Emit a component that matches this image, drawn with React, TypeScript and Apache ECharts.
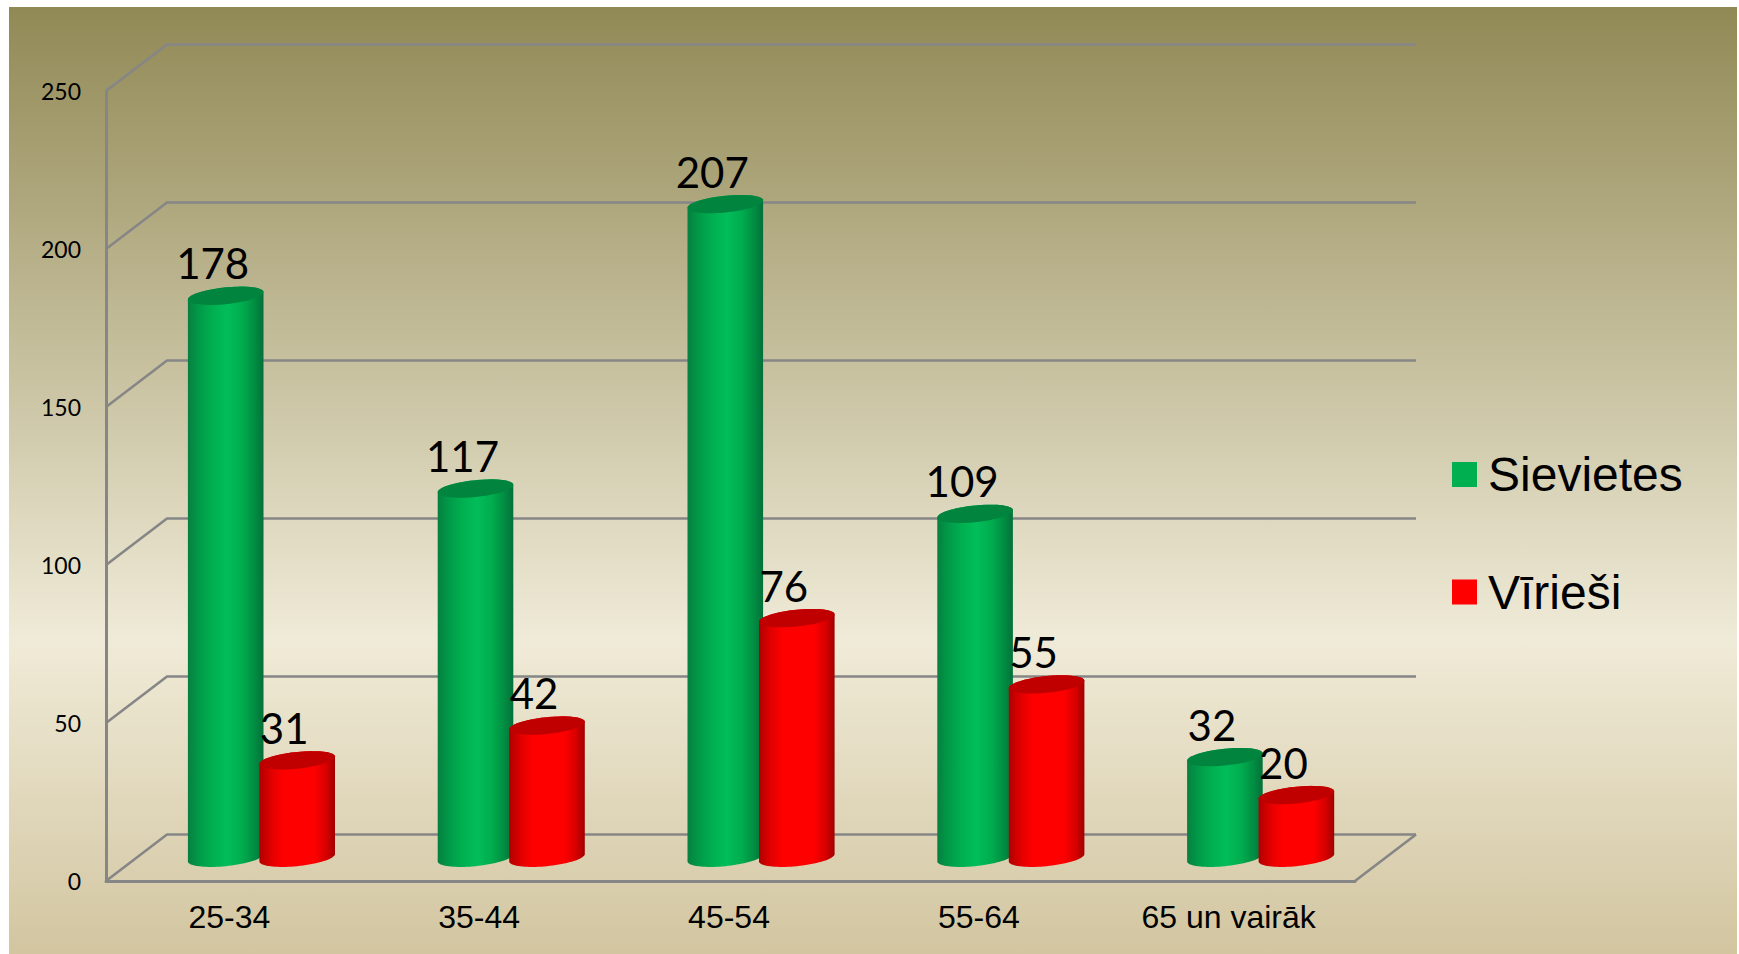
import React, { useEffect, useRef } from "react";
import * as echarts from "echarts";

const categories = ["25-34", "35-44", "45-54", "55-64", "65 un vairāk"];
const sievietes = [178, 117, 207, 109, 32];
const viriesi = [31, 42, 76, 55, 20];
const yTicks = [0, 50, 100, 150, 200, 250];

const LINE = "#868686";
const DEPTH_X = 61;
const DEPTH_Y = -46.5;

const ellipsePts = (cx: number, cy: number, rx: number, from: number, to: number) => {
  const pts: number[][] = [];
  const n = 40;
  for (let i = 0; i <= n; i++) {
    const t = from + ((to - from) * i) / n;
    pts.push([cx + rx * Math.cos(t), cy - 3.7 * Math.cos(t) + 8.4 * Math.sin(t)]);
  }
  return pts;
};

const renderWall = (params: any, api: any) => {
  const cs = params.coordSys;
  const v = api.value(1);
  const y = api.coord([0, v])[1];
  const x0 = cs.x;
  const x1 = cs.x + cs.width;
  const children: any[] = [
    {
      type: "polyline",
      shape: { points: [[x0, y], [x0 + DEPTH_X, y + DEPTH_Y], [x1 + DEPTH_X, y + DEPTH_Y]] },
      style: { stroke: LINE, lineWidth: 2.6, fill: null, lineJoin: "bevel" },
    },
  ];
  if (v === 0) {
    children.push({
      type: "line",
      shape: { x1, y1: y, x2: x1 + DEPTH_X, y2: y + DEPTH_Y },
      style: { stroke: LINE, lineWidth: 2.6 },
    });
  }
  return { type: "group", children };
};

const cylinder = (offset: number, stops: [number, string][], topColor: string) => (params: any, api: any) => {
  const cat = api.value(0);
  const val = api.value(1);
  const top = api.coord([cat, val]);
  const base = api.coord([cat, 0]);
  const cx = top[0] + offset;
  const topY = top[1] + DEPTH_Y / 2 + 0.5;
  const baseY = base[1] + DEPTH_Y / 2;
  const rx = 37.8;
  const bodyPts = [
    ...ellipsePts(cx, baseY, rx, 0, Math.PI),
    ...ellipsePts(cx, topY, rx, Math.PI, 2 * Math.PI),
  ];
  return {
    type: "group",
    children: [
      {
        type: "polygon",
        shape: { points: bodyPts },
        style: {
          fill: new echarts.graphic.LinearGradient(
            0, 0, 1, 0,
            stops.map(([o, c]) => ({ offset: o, color: c })),
          ),
        },
      },
      {
        type: "polygon",
        shape: { points: ellipsePts(cx, topY, rx, 0, 2 * Math.PI) },
        style: { fill: topColor },
      },
      {
        type: "text",
        x: cx - 13,
        y: topY - 32.5,
        style: {
          text: String(val),
          font: '42px Lato',
          fill: "#000",
          align: "center",
          verticalAlign: "middle",
        },
      },
    ],
  };
};

const greenStops: [number, string][] = [
  [0, "#06803f"],
  [0.15, "#019a49"],
  [0.33, "#00b050"],
  [0.52, "#02bd5a"],
  [0.72, "#00ac4e"],
  [0.88, "#018d42"],
  [1, "#04703a"],
];
const redStops: [number, string][] = [
  [0, "#b00000"],
  [0.17, "#e40000"],
  [0.32, "#ff0000"],
  [0.72, "#ff0000"],
  [0.88, "#d80000"],
  [1, "#a00000"],
];

export default function App() {
  const ref = useRef<HTMLDivElement>(null);
  useEffect(() => {
    document.body.style.margin = "0";
    const chart = echarts.init(ref.current!, undefined, { renderer: "svg" });
    chart.setOption({
      animation: false,
      graphic: [
        {
          type: "rect",
          z: 0,
          silent: true,
          shape: { x: 9, y: 7, width: 1728, height: 947 },
          style: {
            fill: new echarts.graphic.LinearGradient(0, 0, 0, 1, [
              { offset: 0, color: "#918955" },
              { offset: 0.668, color: "#f0ebd8" },
              { offset: 1, color: "#d2c5a0" },
            ]),
          },
        },
      ],
      legend: {
        orient: "vertical",
        left: 1452,
        top: 449.5,
        padding: 0,
        itemWidth: 25,
        itemHeight: 25,
        itemGap: 67.5,
        icon: "rect",
        selectedMode: false,
        textStyle: {
          fontFamily: "Liberation Sans",
          fontSize: 48,
          color: "#000",
          lineHeight: 50,
          padding: [0, 0, 0, 6],
        },
        data: ["Sievietes", "Vīrieši"],
      },
      grid: { left: 106, top: 91, width: 1249, height: 790 },
      xAxis: {
        type: "category",
        data: categories,
        axisTick: { show: false },
        axisLine: { lineStyle: { color: LINE, width: 3 } },
        axisLabel: {
          color: "#000",
          fontFamily: "Liberation Sans",
          fontSize: 32,
          margin: 20,
          interval: 0,
          padding: [0, 3, 0, 0],
        },
      },
      yAxis: {
        type: "value",
        min: 0,
        max: 250,
        interval: 50,
        axisTick: { show: false },
        splitLine: { show: false },
        axisLine: { show: true, lineStyle: { color: LINE, width: 3 } },
        axisLabel: { color: "#000", fontFamily: "Lato", fontSize: 23, margin: 25 },
      },
      series: [
        {
          type: "custom",
          name: "wall",
          silent: true,
          renderItem: renderWall,
          data: yTicks.map((v) => [0, v]),
          z: 1,
        },
        {
          type: "custom",
          name: "Sievietes",
          itemStyle: { color: "#00b050" },
          renderItem: cylinder(-5.2, greenStops, "#00843e"),
          data: sievietes.map((v, i) => [i, v]),
          z: 3,
        },
        {
          type: "custom",
          name: "Vīrieši",
          itemStyle: { color: "#ff0000" },
          renderItem: cylinder(66.3, redStops, "#c00000"),
          data: viriesi.map((v, i) => [i, v]),
          z: 4,
        },
      ],
    });
    return () => chart.dispose();
  }, []);
  return (
    <div
      ref={ref}
      style={{ position: "fixed", left: 0, top: 0, width: 1739, height: 954, background: "#fff" }}
    />
  );
}
